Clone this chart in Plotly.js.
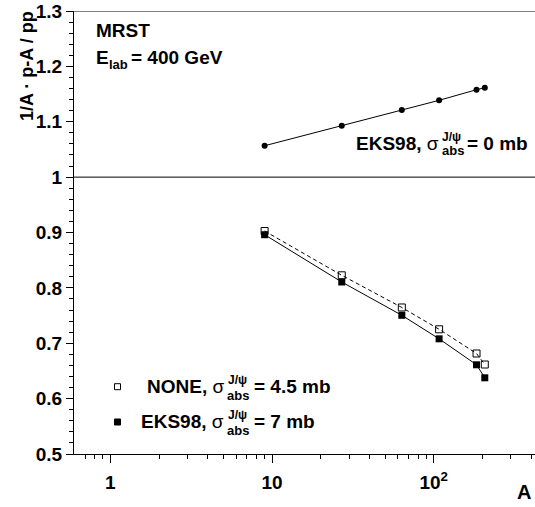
<!DOCTYPE html>
<html>
<head>
<meta charset="utf-8">
<script src="https://cdn.plot.ly/plotly-3.0.1.min.js"></script>
<style>
html,body{margin:0;padding:0;overflow:hidden;background:#fff;}
#chart{width:535px;height:507px;}
</style>
</head>
<body>
<div id="chart"></div>
<script>
// ---- data ----
const massNumbers = [9, 27, 63.5, 108, 184, 207];
const eks98NoAbs  = [1.0567, 1.0929, 1.1212, 1.1387, 1.1579, 1.1615];   // EKS98, sigma_abs = 0 mb
const noneAbs45   = [0.9027, 0.8227, 0.7646, 0.7252, 0.6815, 0.6616];   // NONE, sigma_abs = 4.5 mb
const eks98Abs7   = [0.8960, 0.8106, 0.7505, 0.7080, 0.6611, 0.6376];   // EKS98, sigma_abs = 7 mb
const yTickVals   = [0.5, 0.6, 0.7, 0.8, 0.9, 1.0, 1.1, 1.2, 1.3];
const xTickVals   = [1, 10, 100];
const xTickText   = ['1', '10', '10<sup>2</sup>'];
const xMinorVals  = [0.7, 0.8, 0.9, 2, 3, 4, 5, 6, 7, 8, 9, 20, 30, 40, 50, 60, 70, 80, 90, 200, 300, 400];

// ---- layout helpers (pixel -> paper) ----
const W = 535, H = 507, ML = 74, MR = 0, MT = 11, MB = 53;
const PW = W - ML - MR, PH = H - MT - MB;
const px = x => (x - ML) / PW;
const py = y => (H - MB - y) / PH;
const FONT = 'Liberation Sans, Arial, Helvetica, sans-serif';

const xRange = [Math.log10(0.596), 2.6265];

const traces = [
  {x: massNumbers, y: eks98NoAbs, type: 'scatter', mode: 'lines+markers',
   line: {color: '#000', width: 1}, marker: {symbol: 'circle', size: 6, color: '#000'},
   hoverinfo: 'x+y', showlegend: false},
  {x: massNumbers, y: eks98Abs7, type: 'scatter', mode: 'lines+markers',
   line: {color: '#000', width: 1}, marker: {symbol: 'square', size: 7, color: '#000'},
   hoverinfo: 'x+y', showlegend: false},
  {x: massNumbers, y: noneAbs45, type: 'scatter', mode: 'lines+markers', xaxis: 'x2',
   line: {color: '#000', width: 1, dash: '4px,3px'},
   marker: {symbol: 'square-open', size: 7, color: '#000', line: {width: 1, color: '#000'}},
   hoverinfo: 'x+y', showlegend: false}
];

function ann(text, x, y, size, anchor, extra) {
  return Object.assign({
    text: text, xref: 'paper', yref: 'paper', x: px(x), y: py(y),
    xanchor: anchor, yanchor: 'middle', showarrow: false, borderpad: 0,
    font: {family: FONT, size: size, color: '#000', weight: 'bold'}
  }, extra || {});
}
const SIG = '<span style="font-weight:normal">σ</span>';

const annotations = [
  ann('MRST', 95, 31, 19, 'left'),
  ann('E', 95, 57.5, 19, 'left'),
  ann('lab', 107.5, 64, 13, 'left'),
  ann('= 400 GeV', 130, 57.5, 19, 'left'),

  ann('EKS98, ' + SIG, 440, 143.3, 19, 'right'),
  ann('J/ψ', 441, 137, 12, 'left'),
  ann('abs', 440.5, 151, 13, 'left'),
  ann('= 0 mb', 466, 143.3, 19, 'left'),

  ann('NONE, ' + SIG, 225, 386.5, 19, 'right'),
  ann('J/ψ', 227, 379.5, 12, 'left'),
  ann('abs', 226, 395.5, 13, 'left'),
  ann('= 4.5 mb', 252.5, 386.5, 19, 'left'),

  ann('EKS98, ' + SIG, 225, 421.5, 19, 'right'),
  ann('J/ψ', 227, 414.5, 12, 'left'),
  ann('abs', 226, 430.5, 13, 'left'),
  ann('= 7 mb', 252.5, 421.5, 19, 'left'),

  ann('1/A · p-A / pp', 27, 66, 18, 'center', {textangle: -90}),
  ann('A', 532, 492, 20, 'right')
];

const shapes = [
  {type: 'line', xref: 'paper', yref: 'y', x0: 0, x1: 1, y0: 1.3, y1: 1.3, line: {color: '#000', width: 1}},
  {type: 'line', xref: 'paper', yref: 'y', x0: 0, x1: 1, y0: 1.0, y1: 1.0, line: {color: '#000', width: 1}},
  {type: 'rect', xref: 'paper', yref: 'paper', x0: px(114.5), x1: px(120.5), y0: py(383.7), y1: py(389.7),
   line: {color: '#000', width: 1}, fillcolor: 'rgba(0,0,0,0)'},
  {type: 'rect', xref: 'paper', yref: 'paper', x0: px(114.5), x1: px(120.5), y0: py(419), y1: py(425),
   line: {color: '#000', width: 1}, fillcolor: '#000'}
];

const tickFont = {family: FONT, size: 19, color: '#000', weight: 'bold'};

const layout = {
  width: W, height: H,
  margin: {l: ML, r: MR, t: MT, b: MB, pad: 0},
  paper_bgcolor: '#fff', plot_bgcolor: '#fff',
  showlegend: false,
  xaxis: {type: 'log', range: xRange, autorange: false,
    tickmode: 'array', tickvals: xTickVals, ticktext: xTickText,
    ticks: 'outside', ticklen: 8, tickwidth: 1, tickcolor: '#000',
    showline: true, linecolor: '#000', linewidth: 1, mirror: false,
    showgrid: false, zeroline: false, tickfont: tickFont, ticklabelstandoff: 3},
  xaxis2: {type: 'log', range: xRange, autorange: false, overlaying: 'x', anchor: 'y', side: 'bottom',
    tickmode: 'array', tickvals: xMinorVals, showticklabels: false,
    ticks: 'outside', ticklen: 4, tickwidth: 1, tickcolor: '#000',
    showline: false, showgrid: false, zeroline: false},
  yaxis: {range: [0.5, 1.3], autorange: false,
    tickmode: 'array', tickvals: yTickVals,
    ticks: 'outside', ticklen: 7, tickwidth: 1, tickcolor: '#000',
    minor: {dtick: 0.02, tick0: 0.5, ticks: 'outside', ticklen: 4, tickwidth: 1, tickcolor: '#000', showgrid: false},
    showline: true, linecolor: '#000', linewidth: 1,
    showgrid: false, zeroline: false, tickfont: tickFont},
  annotations: annotations,
  shapes: shapes
};

Plotly.newPlot('chart', traces, layout, {displayModeBar: false, staticPlot: true});
</script>
</body>
</html>
